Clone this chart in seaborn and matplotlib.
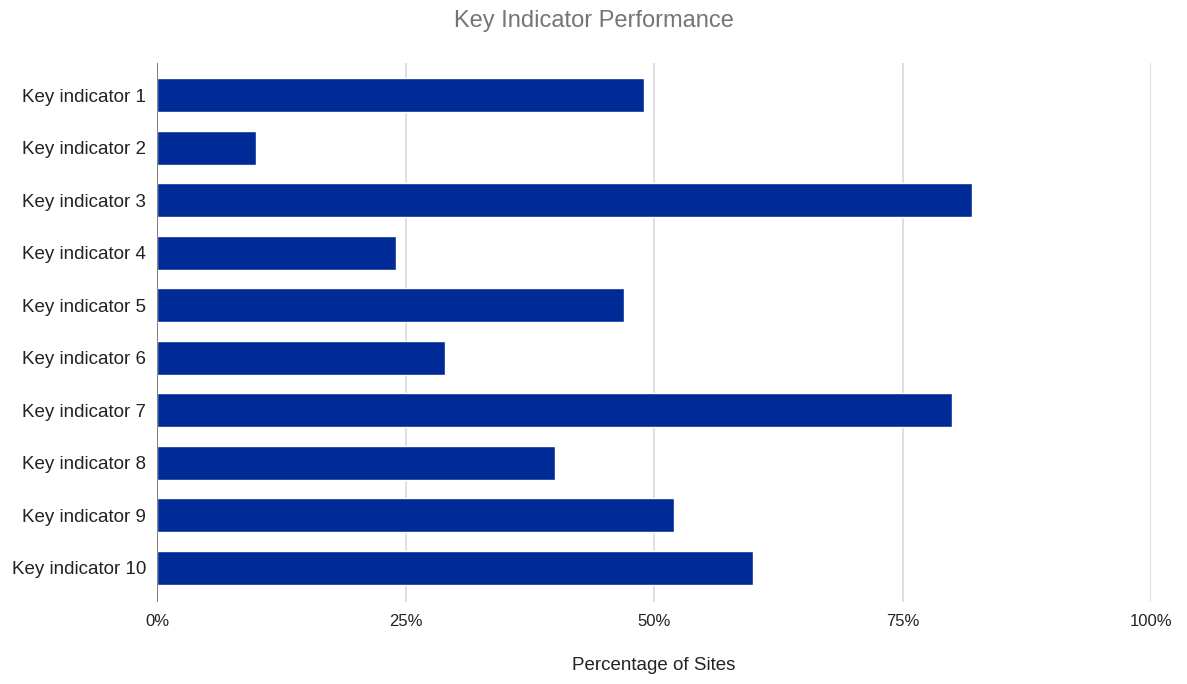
import matplotlib
matplotlib.use("Agg")
import matplotlib.pyplot as plt
import seaborn as sns
import pandas as pd
from matplotlib.ticker import PercentFormatter

indicators = ["Key indicator %d" % i for i in range(1, 11)]
pct_sites = [49, 10, 82, 24, 47, 29, 80, 40, 52, 60]
x_ticks = [0, 25, 50, 75, 100]

df = pd.DataFrame({"indicator": indicators, "pct": pct_sites})

sns.set_theme(style="white")
plt.rcParams["font.family"] = ["Liberation Sans", "DejaVu Sans"]

fig = plt.figure(figsize=(11.87, 6.84), dpi=100)
ax = fig.add_axes([0.1323, 0.1199, 0.8374, 0.788])

sns.barplot(data=df, x="pct", y="indicator", color="#002A95", saturation=1,
            width=0.65, orient="h", ax=ax, zorder=3)

ax.set_xlim(0, 100)
ax.set_ylim(9.65, -0.61)
ax.set_xticks(x_ticks)
ax.xaxis.set_major_formatter(PercentFormatter(decimals=0))
ax.grid(axis="x", color="#d9d9d9", linewidth=1.2, zorder=0)
ax.axvline(0, color="#777777", linewidth=1.3, zorder=4)
for s in ax.spines.values():
    s.set_visible(False)

ax.tick_params(axis="x", length=0, labelsize=12, colors="#222222", pad=9)
ax.tick_params(axis="y", length=0, labelsize=13.5, colors="#222222", pad=8)
ax.set_ylabel("")
ax.set_xlabel("Percentage of Sites", fontsize=13.5, color="#222222", labelpad=20)
fig.suptitle("Key Indicator Performance", fontsize=17, color="#757575", y=0.97, va="center")

plt.savefig("out.png", dpi=100)
plt.close()
